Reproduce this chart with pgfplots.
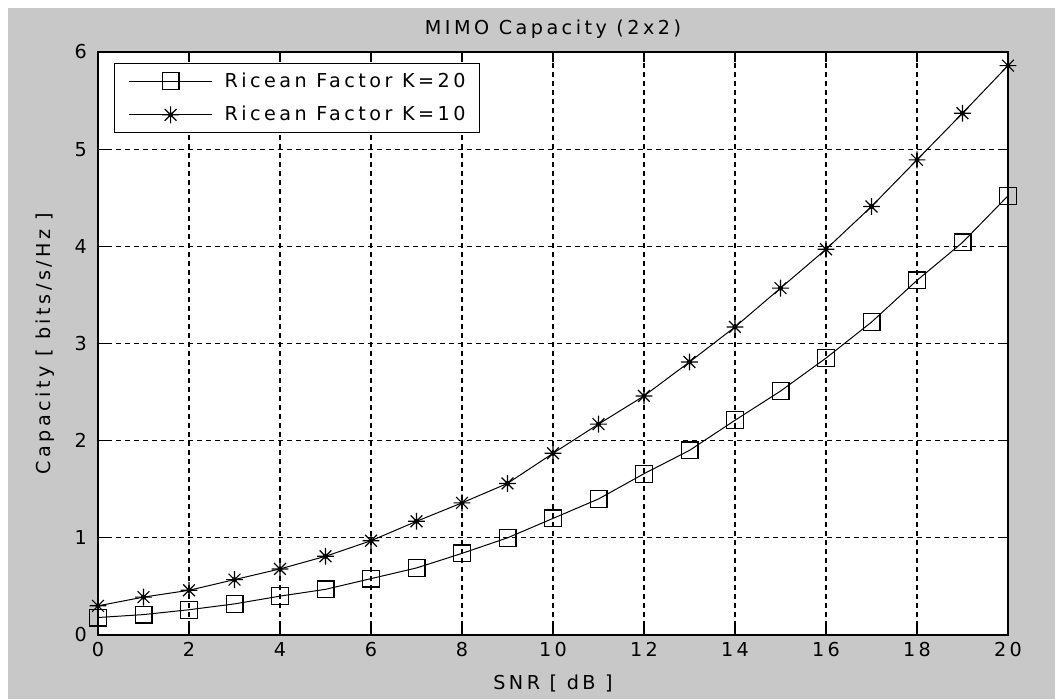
\documentclass[border=0pt]{standalone}
\usepackage{pgfplots}
\pgfplotsset{compat=1.18}
\usepackage{fontspec}
\setmainfont{DejaVu Sans}[LetterSpace=18]
\definecolor{figgray}{RGB}{200,200,200}

% matlab style '*' marker: plus and cross on top of each other
\pgfdeclareplotmark{mstar}{%
  \pgfpathmoveto{\pgfqpoint{-\pgfplotmarksize}{0pt}}%
  \pgfpathlineto{\pgfqpoint{\pgfplotmarksize}{0pt}}%
  \pgfpathmoveto{\pgfqpoint{0pt}{-\pgfplotmarksize}}%
  \pgfpathlineto{\pgfqpoint{0pt}{\pgfplotmarksize}}%
  \pgfpathmoveto{\pgfqpoint{-0.7\pgfplotmarksize}{-0.7\pgfplotmarksize}}%
  \pgfpathlineto{\pgfqpoint{0.7\pgfplotmarksize}{0.7\pgfplotmarksize}}%
  \pgfpathmoveto{\pgfqpoint{-0.7\pgfplotmarksize}{0.7\pgfplotmarksize}}%
  \pgfpathlineto{\pgfqpoint{0.7\pgfplotmarksize}{-0.7\pgfplotmarksize}}%
  \pgfusepathqstroke
  \pgfpathcircle{\pgfpointorigin}{0.3\pgfplotmarksize}%
  \pgfusepathqfill
}

\begin{document}
\begin{tikzpicture}[font=\fontsize{9.6}{11.5}\selectfont]
  % figure background
  \fill[white] (-49pt,-32pt) rectangle (478.5pt,317.5pt);
  \fill[figgray] (-45pt,-32pt) rectangle (478.5pt,313.5pt);
  \begin{axis}[
      width=455pt, height=291.5pt, scale only axis,
      xmin=0, xmax=20, ymin=0, ymax=6,
      xtick={0,2,...,20}, ytick={0,1,...,6},
      tick pos=both, tick align=inside, major tick length=5pt,
      axis line style={line width=0.8pt},
      every tick/.style={black, line width=0.6pt},
      axis background/.style={fill=white},
      grid=major,
      major grid style={black, line width=0.6pt, dash pattern=on 2.5pt off 2pt},
      /pgf/number format/assume math mode=true,
      tick label style={font=\fontsize{9.6}{11.5}\selectfont},
      yticklabel style={xshift=-2pt},
      title={MIMO Capacity (2x2)},
      every axis title shift=0pt,
      title style={at={(axis description cs:0.5,1.0292)}, anchor=base},
      xlabel={SNR [ dB ]},
      xlabel style={at={(axis description cs:0.5,-0.0943)}, anchor=base},
      ylabel={Capacity [ bits/s/Hz ]},
      ylabel style={at={(axis description cs:-0.0527,0.5)}, anchor=base},
      clip=false,
      legend cell align=left,
      legend style={at={(axis description cs:0.0176,0.981)}, anchor=north west,
        draw=black, line width=0.6pt, inner xsep=7pt, inner ysep=4.4pt,
        nodes={inner sep=0pt}, column sep=6pt, row sep=8pt,
        font=\fontsize{9.6}{11.5}\selectfont},
      legend image code/.code={%
        \draw[mark repeat=2, mark phase=2, #1]
          plot coordinates {(0pt,0pt) (20.75pt,0pt) (41.5pt,0pt)};},
    ]
    \addplot[black, line width=0.5pt, mark=square, mark size=4.2pt,
      mark options={line width=0.6pt}] coordinates {
      (0,0.18) (1,0.21) (2,0.26) (3,0.32) (4,0.40) (5,0.47) (6,0.58)
      (7,0.69) (8,0.84) (9,1.00) (10,1.20) (11,1.40) (12,1.66) (13,1.90)
      (14,2.21) (15,2.51) (16,2.85) (17,3.22) (18,3.65) (19,4.04) (20,4.52)};
    \addplot[black, line width=0.5pt, mark=mstar, mark size=4.2pt,
      mark options={line width=0.6pt}] coordinates {
      (0,0.30) (1,0.39) (2,0.46) (3,0.57) (4,0.68) (5,0.81) (6,0.97)
      (7,1.17) (8,1.36) (9,1.56) (10,1.87) (11,2.17) (12,2.46) (13,2.81)
      (14,3.17) (15,3.57) (16,3.97) (17,4.41) (18,4.89) (19,5.37) (20,5.86)};
    \legend{Ricean Factor K=20, Ricean Factor K=10}
  \end{axis}
\end{tikzpicture}
\end{document}
